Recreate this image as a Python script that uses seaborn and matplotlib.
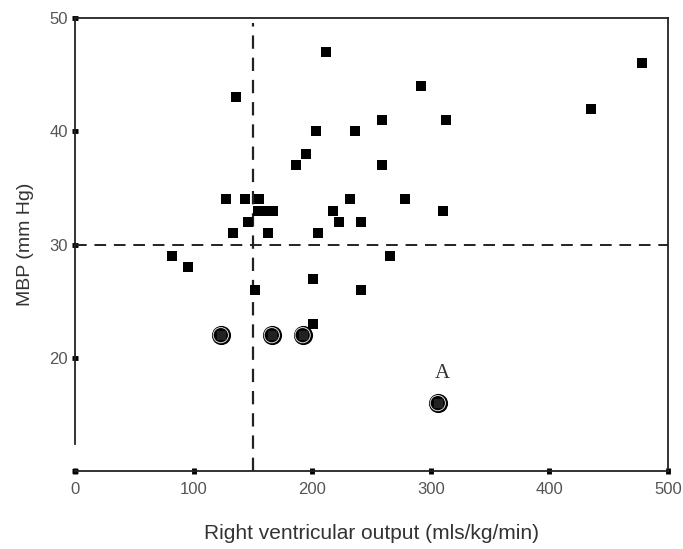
import numpy as np
import pandas as pd
import seaborn as sns
import matplotlib.pyplot as plt

# squares: all animals
rvo = [82, 95, 127, 133, 136, 143, 146, 155, 154, 163, 167, 163, 152, 186, 195,
       203, 201, 201, 205, 212, 218, 223, 232, 236, 241, 241, 259, 259, 266, 278,
       292, 310, 313, 435, 478]
mbp = [29, 28, 34, 31, 43, 34, 32, 34, 33, 33, 33, 31, 26, 37, 38,
       40, 27, 23, 31, 47, 33, 32, 34, 40, 32, 26, 41, 37, 29, 34,
       44, 33, 41, 42, 46]

# circled points
rvo_c = [123, 166, 192, 306]
mbp_c = [22, 22, 22, 16]

rvo_cut = 150
mbp_cut = 30

df = pd.DataFrame({"rvo": rvo, "mbp": mbp})
dfc = pd.DataFrame({"rvo": rvo_c, "mbp": mbp_c})

sns.set_style("white")
plt.rcParams['font.family'] = ['Liberation Sans', 'DejaVu Sans']

fig = plt.figure(figsize=(6.83, 5.49), dpi=100)
ax = fig.add_axes([0.1098, 0.142, 0.868, 0.825])

sns.scatterplot(data=df, x="rvo", y="mbp", marker="s", s=62, color="black",
                edgecolor="black", linewidth=0, ax=ax, zorder=3)
sns.scatterplot(data=dfc, x="rvo", y="mbp", marker="o", s=190, color="black",
                edgecolor="black", linewidth=0, ax=ax, zorder=3)
ax.scatter(dfc["rvo"], dfc["mbp"], marker="o", s=120, facecolors="none",
           edgecolors="#dddddd", linewidths=0.7, zorder=4)
ax.scatter(dfc["rvo"], dfc["mbp"], marker="s", s=30, color="#222222", zorder=5)

ax.axhline(mbp_cut, color="#222222", lw=1.4, ls=(0, (6, 4)), zorder=2)
ax.plot([rvo_cut, rvo_cut], [10, 49.6], color="#222222", lw=1.6, ls=(0, (6, 4)), zorder=2)

ax.text(310, 18.6, "A", family=["Liberation Serif", "DejaVu Serif"], fontsize=15,
        ha="center", va="center", color="#333333")

ax.set_xlim(0, 500)
ax.set_ylim(10, 50)
ax.set_xticks([0, 100, 200, 300, 400, 500])
ax.set_yticks([10, 20, 30, 40, 50])
ax.set_yticklabels(["", "20", "30", "40", "50"])

for s in ax.spines.values():
    s.set_color("#222222")
    s.set_linewidth(1.3)
ax.spines["left"].set_bounds(12.4, 50)

ax.tick_params(axis="both", bottom=True, left=True, direction="inout", length=4,
               width=3.5, color="black", labelsize=12, labelcolor="#555555", pad=3)
ax.tick_params(axis="x", pad=6)

ax.set_xlabel("Right ventricular output (mls/kg/min)", fontsize=15, color="#333333", labelpad=19)
ax.set_ylabel("MBP (mm Hg)", fontsize=14, color="#333333", labelpad=11)

fig.savefig("out.png", dpi=100)
